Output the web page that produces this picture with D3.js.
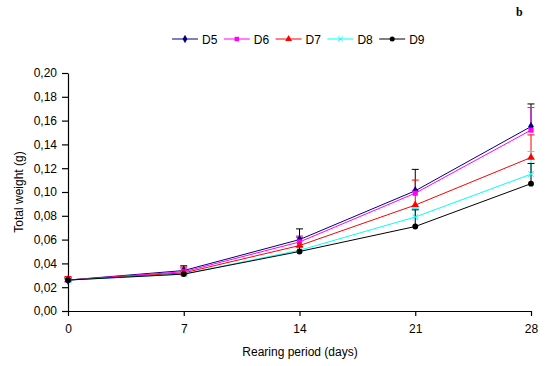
<!DOCTYPE html>
<html>
<head>
<meta charset="utf-8">
<script src="https://cdn.jsdelivr.net/npm/d3@7"></script>
<style>
  body { margin: 0; background: #fff; }
  svg { display: block; font-family: "Liberation Sans", Arial, sans-serif; }
</style>
</head>
<body>
<svg id="chart" width="551" height="366"></svg>
<script>
// days of rearing
const days = [0, 7, 14, 21, 28];
const seriesNames = ["D5", "D6", "D7", "D8", "D9"];

// mean total weight (g)
const d5 = [0.026, 0.034, 0.060, 0.101, 0.155];
const d6 = [0.026, 0.033, 0.058, 0.099, 0.152];
const d7 = [0.026, 0.032, 0.055, 0.089, 0.129];
const d8 = [0.026, 0.031, 0.051, 0.079, 0.115];
const d9 = [0.026, 0.031, 0.050, 0.071, 0.107];

// standard deviation (positive error bars)
const e5 = [0.002, 0.004, 0.009, 0.018, 0.019];
const e6 = [0.002, 0.003, 0.005, 0.002, 0.019];
const e7 = [0.003, 0.005, 0.007, 0.021, 0.019];
const e8 = [0.001, 0.002, 0.003, 0.007, 0.019];
const e9 = [0.001, 0.002, 0.004, 0.014, 0.017];

const yTicks = [0, 0.02, 0.04, 0.06, 0.08, 0.10, 0.12, 0.14, 0.16, 0.18, 0.20];

const colors = ["#000080", "#ff00ff", "#ff0000", "#00ffff", "#000000"];
const shapes = ["diamond", "square", "triangle", "cross", "circle"];

const series = seriesNames.map((name, i) => ({
    name: name,
    values: [d5, d6, d7, d8, d9][i],
    errors: [e5, e6, e7, e8, e9][i],
    color: colors[i],
    shape: shapes[i]
}));

const margin = { left: 68, right: 20, top: 73, bottom: 55 };
const width = 551, height = 366;

const svg = d3.select("#chart");

const x = d3.scaleLinear().domain([0, 28]).range([margin.left, 531]);
const y = d3.scaleLinear().domain([0, 0.20]).range([311, 73]);
const fmt = v => d3.format(".2f")(v).replace(".", ",");

// axes
const xAxis = svg.append("g")
    .attr("transform", `translate(0,${y(0)})`)
    .call(d3.axisBottom(x).tickValues(days).tickSize(5).tickPadding(8).tickSizeOuter(0));
const yAxis = svg.append("g")
    .attr("transform", `translate(${x(0)},0)`)
    .call(d3.axisLeft(y).tickValues(yTicks).tickFormat(fmt).tickSize(6).tickPadding(5).tickSizeOuter(0));

[xAxis, yAxis].forEach(g => {
    g.selectAll("path, line").attr("stroke", "#000").attr("stroke-width", 1.2);
    g.selectAll("text").attr("fill", "#000").style("font-size", "12px")
        .style("font-family", "'Liberation Sans', Arial, sans-serif");
});

// titles
svg.append("text")
    .attr("x", 300).attr("y", 356)
    .attr("text-anchor", "middle")
    .style("font-size", "12px")
    .text("Rearing period (days)");

svg.append("text")
    .attr("transform", `translate(23,${(y(0) + y(0.2)) / 2}) rotate(-90)`)
    .attr("text-anchor", "middle")
    .style("font-size", "12px")
    .text("Total weight (g)");

svg.append("text")
    .attr("x", 516).attr("y", 16)
    .style("font-family", "'Liberation Serif', 'Times New Roman', serif")
    .style("font-weight", "bold")
    .style("font-size", "12px")
    .text("b");

function marker(g, shape, color, size) {
    if (shape === "cross") {
        const s = size * 0.8;
        g.append("path")
            .attr("d", `M${-s},${-s}L${s},${s}M${-s},${s}L${s},${-s}`)
            .attr("stroke", color).attr("stroke-width", 1).attr("fill", "none");
        return;
    }
    const sym = {
        diamond: d3.symbolDiamond,
        square: d3.symbolSquare,
        triangle: d3.symbolTriangle,
        circle: d3.symbolCircle
    }[shape];
    g.append("path")
        .attr("d", d3.symbol().type(sym).size(size * size * 2.2))
        .attr("fill", color);
}

// lines
const line = d3.line().x((d, i) => x(days[i])).y(d => y(d));

series.forEach(s => {
    svg.append("path")
        .datum(s.values)
        .attr("fill", "none")
        .attr("stroke", s.color)
        .attr("stroke-width", 1)
        .attr("d", line);
});

// error bars
series.forEach(s => {
    const g = svg.append("g");
    s.values.forEach((v, i) => {
        const cx = x(days[i]);
        const top = y(v + s.errors[i]);
        const col = s.color === "#000080" ? "#000000" : s.color;
        g.append("line").attr("x1", cx).attr("x2", cx).attr("y1", y(v)).attr("y2", top)
            .attr("stroke", col).attr("stroke-width", 1);
        g.append("line").attr("x1", cx - 3.5).attr("x2", cx + 3.5).attr("y1", top).attr("y2", top)
            .attr("stroke", col).attr("stroke-width", 1);
    });
});

// markers
series.forEach(s => {
    s.values.forEach((v, i) => {
        const g = svg.append("g").attr("transform", `translate(${x(days[i])},${y(v)})`);
        marker(g, s.shape, s.color, 3.5);
    });
});

// legend
const legend = svg.append("g").attr("transform", "translate(172,39)");
series.forEach((s, i) => {
    const g = legend.append("g").attr("transform", `translate(${i * 51.8},0)`);
    g.append("line").attr("x1", 0).attr("x2", 26).attr("y1", 0).attr("y2", 0)
        .attr("stroke", s.color).attr("stroke-width", 1);
    const m = g.append("g").attr("transform", "translate(13,0)");
    marker(m, s.shape, s.color, 3);
    g.append("text")
        .attr("x", 30).attr("y", 4.5)
        .style("font-size", "12px")
        .text(s.name);
});
</script>
</body>
</html>
